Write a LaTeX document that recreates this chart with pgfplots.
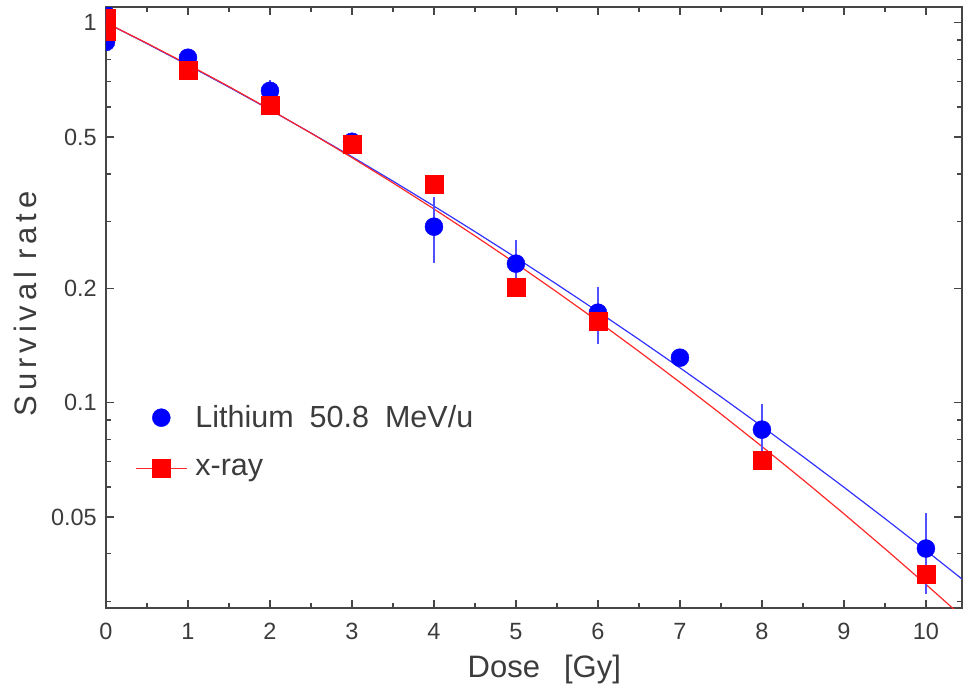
\documentclass[border=0pt]{standalone}
\usepackage{pgfplots}
\pgfplotsset{compat=1.18}
\usepackage{fontspec}
\setmainfont{Liberation Sans}
\newfontfamily\ylabfont[LetterSpace=16]{Liberation Sans}
\definecolor{txtgray}{RGB}{60,60,60}
\definecolor{axgray}{RGB}{70,70,70}
\definecolor{errblue}{RGB}{80,80,255}
\definecolor{lineblue}{RGB}{50,50,255}
\definecolor{linered}{RGB}{255,40,40}
\begin{document}
\begin{tikzpicture}
\useasboundingbox (-106pt,-81pt) rectangle (857pt,608pt);
\begin{axis}[
  at={(0pt,0pt)}, anchor=south west,
  scale only axis, width=856pt, height=601pt,
  ymode=log,
  xmin=0, xmax=10.44, ymin=0.0288, ymax=1.10,
  clip marker paths=true,
  axis line style={axgray, line width=1.3pt},
  every tick/.style={axgray, line width=1.3pt},
  tick align=inside, xtick pos=both, ytick pos=both,
  major tick length=8pt, minor tick length=5pt,
  xtick={0,1,2,3,4,5,6,7,8,9,10},
  xticklabels={0,1,2,3,4,5,6,7,8,9,10},
  minor xtick={0.5,1.5,2.5,3.5,4.5,5.5,6.5,7.5,8.5,9.5},
  ytick={0.05,0.1,0.2,0.5,1},
  yticklabels={0.05,0.1,0.2,0.5,1},
  minor ytick={0.03,0.04,0.06,0.07,0.08,0.09,0.3,0.4,0.6,0.7,0.8,0.9},
  xticklabel style={font=\fontsize{23.5}{26}\selectfont, text=txtgray, anchor=north, inner sep=0pt, yshift=-15pt},
  yticklabel style={font=\fontsize{23.5}{26}\selectfont, text=txtgray, anchor=east, inner sep=0pt, xshift=-9pt},
  xlabel={Dose\hspace{24pt}[Gy]},
  ylabel={\ylabfont Survival\hspace{12pt}rate},
  xlabel style={font=\fontsize{31}{36}\selectfont, text=txtgray, at={(axis description cs:0.512,-0.1015)}, anchor=center},
  ylabel style={font=\fontsize{31}{36}\selectfont, text=txtgray, at={(axis description cs:-0.094,0.506)}, anchor=center},
  legend style={draw=none, fill=none, at={(axis description cs:0.0339,0.340)}, anchor=north west,
    font=\fontsize{30.5}{34}\selectfont, text=txtgray, row sep=26pt, inner sep=0pt},
  legend cell align=left,
  legend image code/.code={\draw[mark repeat=2,mark phase=2] plot coordinates {(0pt,0pt)(25.5pt,0pt)(51pt,0pt)};},
]
% fitted curves
\addplot[lineblue, line width=1.2pt, forget plot] coordinates {
(0,1.0) (0.5,0.8811) (1,0.7735) (1.5,0.6768) (2,0.5900) (2.5,0.5126) (3,0.4438) (3.5,0.3829)
(4,0.3291) (4.5,0.2819) (5,0.2407) (5.5,0.2048) (6,0.1736) (6.5,0.1467) (7,0.1235) (7.5,0.1036)
(8,0.08658) (8.5,0.07213) (9,0.05988) (9.5,0.04953) (10,0.04083) (10.5,0.03354)};
\addplot[linered, line width=1.2pt, forget plot] coordinates {
(0,1.0) (0.5,0.8833) (1,0.7763) (1.5,0.6791) (2,0.5912) (2.5,0.5121) (3,0.4415) (3.5,0.3788)
(4,0.3234) (4.5,0.2747) (5,0.2324) (5.5,0.1955) (6,0.1637) (6.5,0.1364) (7,0.1131) (7.5,0.09336)
(8,0.07667) (8.5,0.06267) (9,0.05098) (9.5,0.04126) (10,0.03324) (10.5,0.02665)};
% Lithium data
\addplot[only marks, mark=*, mark size=9pt, color=blue, mark options={fill=blue, draw=blue},
  error bars/.cd, y dir=both, y explicit, error mark=none,
  error bar style={errblue, line width=1.5pt}] coordinates {
(0,1.05) (0,0.89)
(1,0.809) += (0,0.03) -= (0,0.03)
(2,0.662) += (0,0.045) -= (0,0.04)
(3,0.486) += (0,0.02) -= (0,0.02)
(4,0.2905) += (0,0.058) -= (0,0.057)
(5,0.2322) += (0,0.036) -= (0,0.032)
(6,0.1725) += (0,0.029) -= (0,0.030)
(7,0.1313) += (0,0.006) -= (0,0.006)
(8,0.0849) += (0,0.014) -= (0,0.011)
(10,0.0413) += (0,0.010) -= (0,0.010)};
\addlegendentry{\hspace{6pt}Lithium\hspace{16pt}50.8\hspace{16pt}MeV/u}
% x-ray data
\addplot[only marks, mark=square*, mark size=9pt, color=red, mark options={fill=red, draw=red}, forget plot] coordinates {
(0,1.03) (0,0.95) (1,0.752) (2,0.605) (3,0.478) (4,0.3748) (5,0.2007) (6,0.1643) (8,0.0704) (10,0.0353)};
\addlegendimage{linered, line width=1.2pt, mark=square*, mark size=9pt, mark options={fill=red, draw=red}}
\addlegendentry{\hspace{6pt}x-ray}
\end{axis}
\end{tikzpicture}
\end{document}
